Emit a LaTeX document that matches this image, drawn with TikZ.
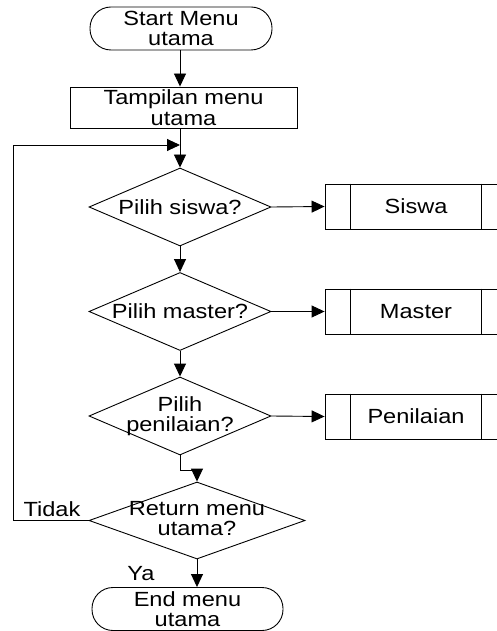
\documentclass[tikz,border=0pt]{standalone}
\usepackage{fontspec}
\setmainfont{Liberation Sans}[FakeStretch=1.15]
\usetikzlibrary{arrows.meta,shapes.geometric}
\begin{document}
\begin{tikzpicture}[x=1pt,y=-1pt, line width=0.9pt,
  every node/.style={font=\fontsize{20.5}{20.5}\selectfont, align=center, inner sep=0pt},
  term/.style={draw, rounded corners=21pt, minimum height=43pt},
  proc/.style={draw, minimum width=227pt, minimum height=41pt},
  dec/.style={draw, diamond, minimum width=182pt, minimum height=78pt},
  sub/.style={draw, minimum width=182pt, minimum height=45pt},
  arr/.style={-{Triangle[length=13pt,width=12pt]}},
]
\useasboundingbox (0,0) rectangle (496,631);

\node[term, minimum width=182pt] (start) at (181,28.5) {Start Menu\\utama};
\node[proc] (proc) at (183.5,107.5) {Tampilan menu\\utama};
\node[dec] (d1) at (180,207) {};
\node at (d1.center) {Pilih siswa?};
\node[dec] (d2) at (180,311.5) {};
\node at (d2.center) {Pilih master?};
\node[dec] (d3) at (180,416) {};
\node at (d3.center) {Pilih\\penilaian?};
\node[dec, minimum width=216pt, minimum height=77pt] (d4) at (197,520.5) {};
\node at ([yshift=2pt]d4.center) {Return menu\\utama?};
\node[term, minimum width=191pt] (end) at (187.5,609) {End menu\\utama};

\node[sub] (s1) at (416,206.5) {Siswa};
\node[sub] (s2) at (416,311.5) {Master};
\node[sub] (s3) at (416,416.5) {Penilaian};
\foreach \s in {s1,s2,s3}{
  \draw ([xshift=26pt]\s.north west) -- ([xshift=26pt]\s.south west);
  \draw ([xshift=-26pt]\s.north east) -- ([xshift=-26pt]\s.south east);
}

\coordinate (j) at (180,145);
\coordinate (lc) at (13,145);

\draw[arr] (start.south -| d1.north) -- (proc.north -| d1.north);
\draw (proc.south -| d1.north) -- (j);
\draw[arr] (j) -- (d1.north);
\draw[arr] (d1.south) -- (d2.north);
\draw[arr] (d2.south) -- (d3.north);
\draw[arr] (d3.south) -- ++(0,15) -| (d4.north);
\draw[arr] (d1.east) -- (s1.west);
\draw[arr] (d2.east) -- (s2.west);
\draw[arr] (d3.east) -- (s3.west);
\draw[arr] (d4.west) -| (lc) -- (j);
\draw[arr] (d4.south) -- (d4.south |- end.north);

\node (tidak) at (52,509) {Tidak};
\node (ya) at (141,574) {Ya};
\end{tikzpicture}
\end{document}
